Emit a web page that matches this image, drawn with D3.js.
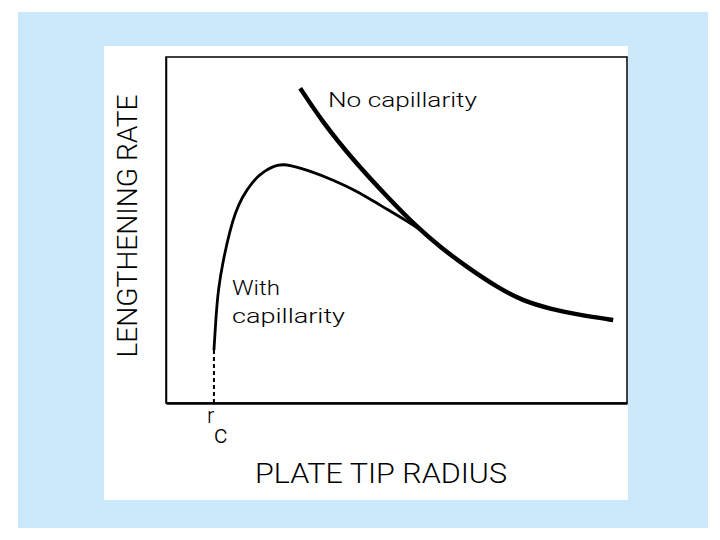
<!DOCTYPE html>
<html>
<head>
<meta charset="utf-8">
<script src="https://d3js.org/d3.v7.min.js"></script>
<style>
  body { margin: 0; background: #fff; }
  text { font-family: Roboto, "Liberation Sans", Arial, sans-serif; font-weight: 300; fill: #000; }
</style>
</head>
<body>
<div id="chart"></div>
<script>
// curve values (x: plate tip radius, y: lengthening rate, both 0..100)
var withCapX = [10.4, 10.8, 11.3, 12.4, 13.9, 15.0, 16.5, 18.7, 21.0, 24.3, 26.9, 31.2, 36.2, 41.4, 46.4, 52.3, 56.2];
var withCapY = [15.3, 24.0, 32.7, 41.3, 50.0, 54.9, 59.5, 63.9, 66.8, 69.1, 68.8, 67.1, 64.5, 61.3, 57.2, 52.6, 49.1];
var noCapX = [29.1, 33.8, 40.6, 48.6, 54.4, 59.4, 65.9, 71.8, 77.4, 83.3, 89.8, 97.0];
var noCapY = [91.0, 81.5, 70.2, 58.7, 50.9, 45.1, 38.7, 33.5, 29.5, 27.2, 25.4, 24.0];
var rcValue = 10.4;

var W = 720, H = 540;
var svg = d3.select("#chart").append("svg")
    .attr("width", W)
    .attr("height", H);

// light blue backdrop and white panel
svg.append("rect").attr("x", 18).attr("y", 12).attr("width", 690).attr("height", 516).attr("fill", "#cce9fc");
svg.append("rect").attr("x", 104).attr("y", 46).attr("width", 524).attr("height", 454).attr("fill", "#fff");

var margin = {left: 166, top: 57, right: 627, bottom: 403};
var x = d3.scaleLinear().domain([0, 100]).range([margin.left, margin.right]);
var y = d3.scaleLinear().domain([0, 100]).range([margin.bottom, margin.top]);

// frame
svg.append("rect")
    .attr("x", x(0)).attr("y", y(100))
    .attr("width", x(100) - x(0)).attr("height", y(0) - y(100))
    .attr("fill", "none").attr("stroke", "#000").attr("stroke-width", 1.5);

var xAxis = svg.append("g")
    .attr("transform", "translate(0," + y(0) + ")")
    .call(d3.axisBottom(x).ticks(0).tickSize(0).tickSizeOuter(0));
xAxis.select(".domain").attr("stroke-width", 2.5);

svg.append("g")
    .attr("transform", "translate(" + x(0) + ",0)")
    .call(d3.axisLeft(y).ticks(0).tickSize(0).tickSizeOuter(0))
    .select(".domain").attr("stroke-width", 1.5);

var line = d3.line()
    .x(function(d) { return x(d[0]); })
    .y(function(d) { return y(d[1]); })
    .curve(d3.curveBasis);

var withCap = withCapX.map(function(v, i) { return [v, withCapY[i]]; });
var noCap = noCapX.map(function(v, i) { return [v, noCapY[i]]; });

// dashed part below the critical radius
svg.append("line")
    .attr("x1", x(rcValue)).attr("x2", x(rcValue))
    .attr("y1", y(0)).attr("y2", y(withCapY[0]))
    .attr("stroke", "#000").attr("stroke-width", 2)
    .attr("stroke-dasharray", "4,3");

svg.append("path")
    .attr("d", line(withCap))
    .attr("fill", "none").attr("stroke", "#000").attr("stroke-width", 2.8);

svg.append("path")
    .attr("d", line(noCap))
    .attr("fill", "none").attr("stroke", "#000").attr("stroke-width", 4.5);

// labels
svg.append("text")
    .attr("x", 255).attr("y", 483)
    .attr("textLength", 252).attr("lengthAdjust", "spacingAndGlyphs")
    .style("font-size", "28px")
    .text("PLATE TIP RADIUS");

svg.append("text")
    .attr("transform", "translate(137,226) rotate(-90)")
    .attr("text-anchor", "middle")
    .attr("textLength", 263).attr("lengthAdjust", "spacingAndGlyphs")
    .style("font-size", "28px")
    .text("LENGTHENING RATE");

svg.append("text")
    .attr("x", 328).attr("y", 107)
    .attr("textLength", 149).attr("lengthAdjust", "spacingAndGlyphs")
    .style("font-size", "20px")
    .text("No capillarity");

svg.append("text")
    .attr("x", 232).attr("y", 295)
    .attr("textLength", 48).attr("lengthAdjust", "spacingAndGlyphs")
    .style("font-size", "20px")
    .text("With");

svg.append("text")
    .attr("x", 232).attr("y", 323)
    .attr("textLength", 113).attr("lengthAdjust", "spacingAndGlyphs")
    .style("font-size", "20px")
    .text("capillarity");

svg.append("text")
    .attr("x", 207).attr("y", 423)
    .style("font-size", "22px")
    .text("r");

svg.append("text")
    .attr("x", 214).attr("y", 443)
    .style("font-size", "26px")
    .text("c");
</script>
</body>
</html>
